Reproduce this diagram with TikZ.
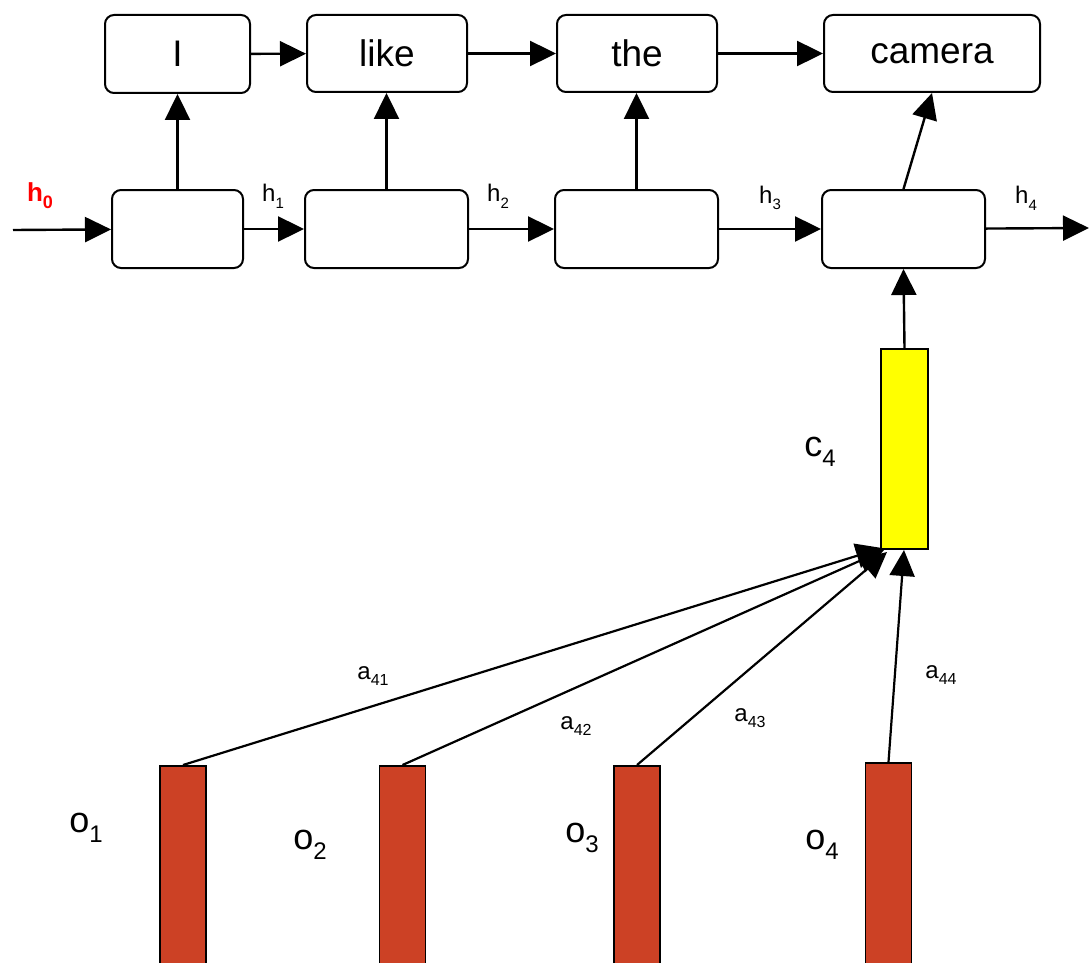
\documentclass[tikz,border=0pt]{standalone}
\usepackage{fontspec}
\setmainfont{Liberation Sans}
\usetikzlibrary{arrows.meta}
\definecolor{barred}{RGB}{204,65,37}
\definecolor{ctxyellow}{RGB}{255,255,0}
% label with a lowered, smaller index
\newcommand{\idx}[4]{{\fontsize{#1}{#1}\selectfont #3\raisebox{-0.28em}{\fontsize{#2}{#2}\selectfont #4}}}
\begin{document}
\begin{tikzpicture}[x=1pt,y=-1pt,
  cell/.style={draw, rounded corners=9pt, line width=2pt, inner sep=0pt},
  word/.style={cell, font=\fontsize{37}{40}\selectfont},
  conn/.style={line width=2.4pt, -{Triangle[length=26pt,width=25pt]}},
  attn/.style={line width=2.2pt, -{Triangle[length=26pt,width=25pt]}},
  obar/.style={draw, fill=barred, line width=1.5pt, minimum width=46pt, minimum height=210pt, anchor=north, inner sep=0pt},
  lbl/.style={inner sep=0pt}]
\useasboundingbox (0,0) rectangle (1089,963);
\clip (0,0) rectangle (1089,963);

% output words
\node[word, minimum width=145pt, minimum height=78pt] (w1) at (177.5,54) {I};
\node[word, minimum width=160pt, minimum height=77pt] (w2) at (387,53.5) {like};
\node[word, minimum width=160pt, minimum height=77pt] (w3) at (637,53.5) {the};
\node[word, minimum width=216pt, minimum height=77pt] (w4) at (932,53.5) {camera};

% recurrent cells
\node[cell, minimum width=131pt, minimum height=78pt] (b1) at (177.5,229) {};
\node[cell, minimum width=163pt, minimum height=78pt] (b2) at (386.5,229) {};
\node[cell, minimum width=163pt, minimum height=78pt] (b3) at (636.5,229) {};
\node[cell, minimum width=163pt, minimum height=78pt] (b4) at (903.5,229) {};

% context vector
\node[draw, fill=ctxyellow, line width=1.5pt, minimum width=47pt, minimum height=200pt, inner sep=0pt] (c4) at (904.5,449) {};

% encoder outputs
\node[obar] (o1) at (183,765) {};
\node[obar] (o2) at (402.5,765) {};
\node[obar] (o3) at (637,765) {};
\node[obar] (o4) at (888.5,762) {};

% free ends of the hidden-state chain
\coordinate (hin) at (13,230);
\coordinate (hout) at (1089,228);

% where the attention weights meet the context vector
\coordinate (t1) at (882,548);
\coordinate (t2) at (884,550);
\coordinate (t3) at (887,552);
\coordinate (t4) at (904,550);

% word chain
\draw[conn] (w1) -- (w2);
\draw[conn] (w2) -- (w3);
\draw[conn] (w3) -- (w4);

% hidden-state chain
\draw[conn] (hin) -- (b1);
\draw[conn] (b1) -- (b2);
\draw[conn] (b2) -- (b3);
\draw[conn] (b3) -- (b4);
\draw[conn] (b4) -- (hout);

% cell outputs
\draw[conn] (b1.north) -- (b1.north |- w1.south);
\draw[conn] (b2.north) -- (b2.north |- w2.south);
\draw[conn] (b3.north) -- (b3.north |- w3.south);
\draw[conn] (b4.north) -- (w4.south);
\draw[conn] (c4.north) -- (b4.south);

% attention
\draw[attn] (o1.north) -- (t1);
\draw[attn] (o2.north) -- (t2);
\draw[attn] (o3.north) -- (t3);
\draw[attn] (o4.north) -- (t4);

% labels
\node[lbl, text=red] (h0) at (40,196) {\bfseries\idx{26}{18}{h}{0}};
\node[lbl] (h1) at (273,196) {\idx{24}{15}{h}{1}};
\node[lbl] (h2) at (498,196) {\idx{24}{15}{h}{2}};
\node[lbl] (h3) at (770,198) {\idx{24}{15}{h}{3}};
\node[lbl] (h4) at (1026,198) {\idx{24}{15}{h}{4}};

\node[lbl] (lc4) at (820,452) {\idx{36}{24}{c}{4}};

\node[lbl] (a41) at (373,676) {\idx{24}{16}{a}{41}};
\node[lbl] (a42) at (576,726) {\idx{24}{16}{a}{42}};
\node[lbl] (a43) at (750,718) {\idx{24}{16}{a}{43}};
\node[lbl] (a44) at (941,675) {\idx{24}{16}{a}{44}};

\node[lbl] (lo1) at (86,828) {\idx{36}{24}{o}{1}};
\node[lbl] (lo2) at (310,845) {\idx{36}{24}{o}{2}};
\node[lbl] (lo3) at (582,838) {\idx{36}{24}{o}{3}};
\node[lbl] (lo4) at (822,845) {\idx{36}{24}{o}{4}};
\end{tikzpicture}
\end{document}
